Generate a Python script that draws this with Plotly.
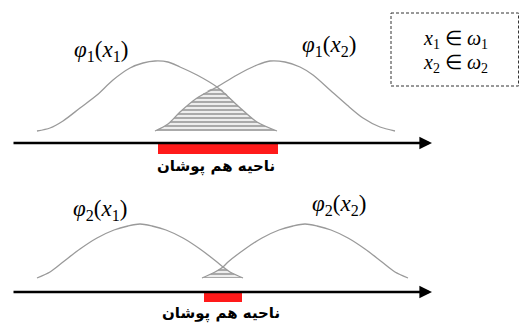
import plotly.graph_objects as go

# curve samples (x along the axis, y = screen row)
top_phi_x1_x = [37, 50, 63, 80, 97, 113, 130, 143, 155, 168, 180, 197, 217, 237, 257, 277]
top_phi_x1_y = [131, 128, 121, 108, 95, 80, 68, 63, 61, 62, 67, 75, 87, 105, 122, 131]
top_phi_x2_x = [155, 168, 180, 197, 217, 237, 257, 270, 285, 300, 313, 330, 347, 363, 380, 395]
top_phi_x2_y = [131, 124, 112, 98, 87, 75, 65, 61, 62, 67, 75, 90, 105, 118, 127, 131]
top_cross = 217

bot_phi_x1_x = [37, 50, 63, 80, 97, 114, 128, 140, 152, 166, 183, 200, 217, 223, 230, 243]
bot_phi_x1_y = [278, 272, 262, 249, 238, 230, 226, 224, 226, 230, 238, 249, 262, 267, 272, 278]
bot_phi_x2_x = [202, 215, 223, 228, 245, 262, 279, 293, 305, 317, 331, 348, 365, 382, 395, 408]
bot_phi_x2_y = [278, 272, 267, 262, 249, 238, 230, 226, 224, 226, 230, 238, 249, 262, 272, 278]
bot_cross = 223

overlap_label = "ناحیه هم پوشان"
curve_labels = ["<i>φ</i><sub>1</sub>(<i>x</i><sub>1</sub>)", "<i>φ</i><sub>1</sub>(<i>x</i><sub>2</sub>)",
                "<i>φ</i><sub>2</sub>(<i>x</i><sub>1</sub>)", "<i>φ</i><sub>2</sub>(<i>x</i><sub>2</sub>)"]
box_lines = ["<i>x</i><sub>1</sub> ∈ <i>ω</i><sub>1</sub>", "<i>x</i><sub>2</sub> ∈ <i>ω</i><sub>2</sub>"]


def overlap(lx, ly, rx, ry, cross):
    # rising part of the right curve, then falling part of the left one
    xs = [x for x in rx if x <= cross] + [x for x in lx if x > cross]
    ys = [y for x, y in zip(rx, ry) if x <= cross] + [y for x, y in zip(lx, ly) if x > cross]
    return xs, ys


fig = go.Figure()
curve_style = dict(color="#9a9a9a", width=1.3, shape="spline", smoothing=0.8)
hatch = dict(shape="-", size=4, solidity=0.6, fgcolor="#555555", bgcolor="rgba(0,0,0,0)")

for lx, ly, rx, ry, cross in [(top_phi_x1_x, top_phi_x1_y, top_phi_x2_x, top_phi_x2_y, top_cross),
                              (bot_phi_x1_x, bot_phi_x1_y, bot_phi_x2_x, bot_phi_x2_y, bot_cross)]:
    ox, oy = overlap(lx, ly, rx, ry, cross)
    fig.add_trace(go.Scatter(x=ox, y=oy, mode="lines", fill="toself", fillpattern=hatch,
                             line=dict(width=0, shape="spline", smoothing=0.8), hoverinfo="skip"))
    fig.add_trace(go.Scatter(x=lx, y=ly, mode="lines", line=curve_style))
    fig.add_trace(go.Scatter(x=rx, y=ry, mode="lines", line=curve_style))

# axes with arrow heads
for yy in [143, 292]:
    fig.add_annotation(x=432, y=yy, ax=12, ay=yy, axref="x", ayref="y", text="",
                       showarrow=True, arrowhead=2, arrowsize=1.1, arrowwidth=2.3, arrowcolor="black")

# red overlap bars and their captions
for x0, x1, y0, y1, ty in [(top_phi_x2_x[0] + 3, top_phi_x1_x[-1] + 1, 144, 154, 166),
                           (bot_phi_x2_x[0] + 2, bot_phi_x1_x[-1] - 1, 293, 302, 313)]:
    fig.add_shape(type="rect", x0=x0, x1=x1, y0=y0, y1=y1, fillcolor="#ff1a1a", line_width=0)
    fig.add_annotation(x=(x0 + x1) / 2 - 2, y=ty, text="<b>" + overlap_label + "</b>", showarrow=False,
                       font=dict(family="DejaVu Sans", size=15, color="black"))

math_font = dict(family="Liberation Serif", size=23, color="black")
for txt, (lx, ly) in zip(curve_labels, [(101, 51), (329, 46), (100, 210), (339, 205)]):
    fig.add_annotation(x=lx, y=ly, text=txt, showarrow=False, font=math_font)

fig.add_shape(type="rect", x0=391, x1=518.5, y0=13, y1=86,
              line=dict(color="#333", width=1, dash="3px,2px"))
for txt, ly in zip(box_lines, [39, 63]):
    fig.add_annotation(x=455, y=ly, text=txt, showarrow=False,
                       font=dict(family="Liberation Serif", size=20, color="black"))

fig.update_layout(width=520, height=325, margin=dict(l=0, r=0, t=0, b=0),
                  paper_bgcolor="white", plot_bgcolor="white", showlegend=False,
                  xaxis=dict(range=[0, 520], visible=False),
                  yaxis=dict(range=[325, 0], visible=False))
fig.write_html("out.html", config={"displayModeBar": False},
               post_script="document.body.style.margin='0';")
